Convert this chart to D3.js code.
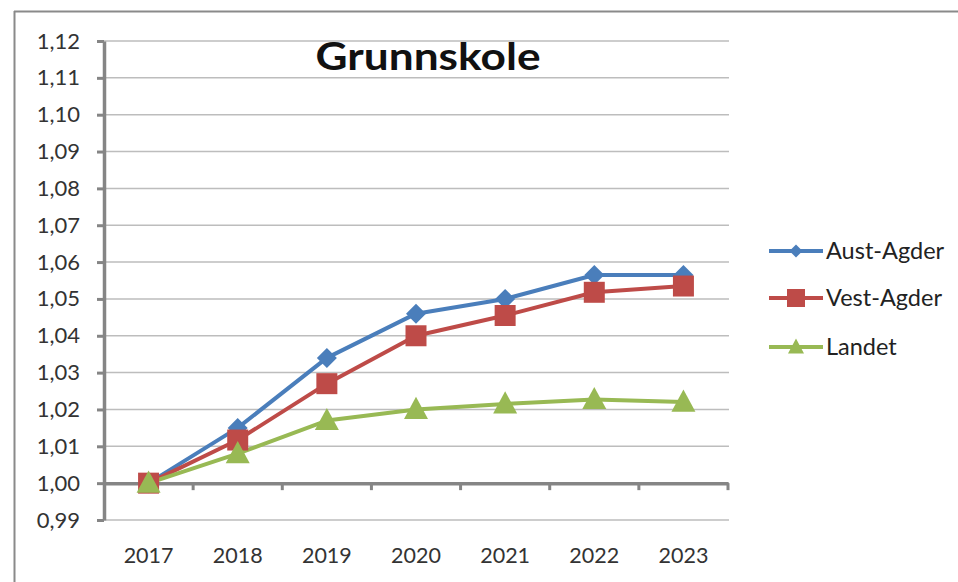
<!DOCTYPE html>
<html><head><meta charset="utf-8">
<script src="https://cdn.jsdelivr.net/npm/d3@7"></script>
<style>html,body{margin:0;padding:0;background:#fff;}svg{display:block;}</style>
</head><body>
<svg id="chart" width="958" height="582"></svg>
<script>
const years = ["2017","2018","2019","2020","2021","2022","2023"];
const austAgder = [1.000, 1.015, 1.034, 1.046, 1.050, 1.0565, 1.0565];
const vestAgder = [1.000, 1.0117, 1.027, 1.040, 1.0455, 1.0518, 1.0535];
const landet = [1.000, 1.008, 1.017, 1.020, 1.0215, 1.0227, 1.022];
const seriesNames = ["Aust-Agder","Vest-Agder","Landet"];
const yTicks = [0.99,1.00,1.01,1.02,1.03,1.04,1.05,1.06,1.07,1.08,1.09,1.10,1.11,1.12];
const titleText = "Grunnskole";

const series = [
  {name: seriesNames[0], values: austAgder, color: "#4A7EBB", marker: "diamond"},
  {name: seriesNames[1], values: vestAgder, color: "#BE4B48", marker: "square"},
  {name: seriesNames[2], values: landet, color: "#98B954", marker: "triangle"}
];

const svg = d3.select("#chart");
const font = "Lato, 'Open Sans', sans-serif";

// outer frame
svg.append("line").attr("x1",14).attr("x2",958).attr("y1",11.5).attr("y2",11.5).attr("stroke","#8a8a8a").attr("stroke-width",2);
svg.append("line").attr("x1",14.5).attr("x2",14.5).attr("y1",11).attr("y2",582).attr("stroke","#8a8a8a").attr("stroke-width",2);

const x = d3.scaleBand().domain(years).range([104, 728]);
const y = d3.scaleLinear().domain([0.99, 1.12]).range([520, 41]);

// gridlines
svg.append("g").selectAll("line").data(yTicks).join("line")
  .attr("x1", 104).attr("x2", 729)
  .attr("y1", d => y(d)).attr("y2", d => y(d))
  .attr("stroke", "#bdbdbd").attr("stroke-width", 1.5);

// y axis
const yAxis = svg.append("g").attr("transform","translate(104,0)")
  .call(d3.axisLeft(y).tickValues(yTicks).tickSize(7).tickSizeOuter(0)
    .tickFormat(d => d3.format(".2f")(d).replace(".", ",")));
yAxis.select(".domain").attr("stroke","#858585").attr("stroke-width",3.5);
yAxis.selectAll(".tick line").attr("stroke","#858585").attr("stroke-width",3);
yAxis.selectAll(".tick text").attr("x",-24).attr("fill","#333").style("font-family",font).style("font-size","22px");

// x axis at 1.00
const xAxis = svg.append("g").attr("transform",`translate(0,${y(1.00)})`)
  .call(d3.axisBottom(x).tickSize(0).tickSizeOuter(0));
xAxis.select(".domain").attr("stroke","#858585").attr("stroke-width",3.5);
xAxis.selectAll(".tick text").attr("y", 555 - y(1.00)).attr("dy","0.35em").attr("fill","#333")
  .style("font-family",font).style("font-size","21.5px");
// tick marks between categories
const bounds = years.map(d => x(d) + x.bandwidth());
svg.append("g").selectAll("line").data(bounds).join("line")
  .attr("x1", d => d).attr("x2", d => d)
  .attr("y1", y(1.00)).attr("y2", y(1.00) + 7)
  .attr("stroke","#858585").attr("stroke-width",3);

const cx = d => x(d) + x.bandwidth()/2;
const line = d3.line().x((d,i) => cx(years[i])).y(d => y(d));

function markerPath(type, s) {
  if (type === "diamond") return `M0,${-s}L${s},0L0,${s}L${-s},0Z`;
  if (type === "square") return `M${-s},${-s}H${s}V${s}H${-s}Z`;
  return `M0,${-s*1.05}L${s},${s*0.8}L${-s},${s*0.8}Z`;
}
const sizes = {diamond: 10, square: 10.5, triangle: 12};

series.forEach(s => {
  svg.append("path").datum(s.values).attr("d", line)
    .attr("fill","none").attr("stroke", s.color).attr("stroke-width",4).attr("stroke-linejoin","round");
});
series.forEach(s => {
  svg.append("g").selectAll("path").data(s.values).join("path")
    .attr("transform", (d,i) => `translate(${cx(years[i])},${y(d)})`)
    .attr("d", markerPath(s.marker, sizes[s.marker]))
    .attr("fill", s.color);
});

// title
const t = svg.append("text").attr("x", 428).attr("y", 70).attr("text-anchor","middle")
  .style("font-family", font).style("font-weight","bold").style("font-size","38px").attr("fill","#111")
  .text(titleText);
t.attr("textLength", 225).attr("lengthAdjust","spacingAndGlyphs");

// legend
const legendY = [251, 298, 347];
const legSizes = {diamond: 6.5, square: 9, triangle: 8};
series.forEach((s, i) => {
  const g = svg.append("g").attr("transform", `translate(0,${legendY[i]})`);
  g.append("line").attr("x1",769).attr("x2",823).attr("y1",0).attr("y2",0).attr("stroke",s.color).attr("stroke-width",4);
  g.append("path").attr("transform","translate(796,0)").attr("d", markerPath(s.marker, legSizes[s.marker])).attr("fill", s.color);
  g.append("text").attr("x",826).attr("y",0).attr("dy","0.35em").style("font-family",font).style("font-size","23.5px").attr("fill","#222").text(s.name);
});
</script>
</body></html>
